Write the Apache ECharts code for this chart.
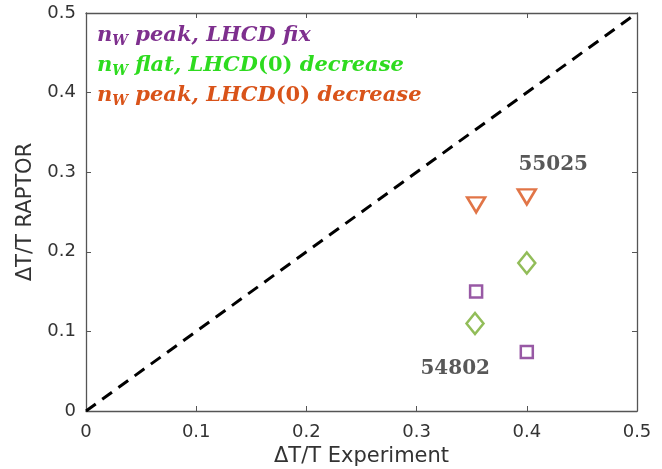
<!DOCTYPE html>
<html>
<head>
<meta charset="utf-8">
<script src="https://cdn.jsdelivr.net/npm/echarts@6/dist/echarts.min.js"></script>
<style>
  html, body { margin: 0; padding: 0; background: #fff; }
  #chart { width: 662px; height: 469px; }
</style>
</head>
<body>
<div id="chart"></div>
<script>
// Measured temperature change vs RAPTOR simulation
const axisTicks = [0, 0.1, 0.2, 0.3, 0.4, 0.5];
const peakFix = [[0.354, 0.150], [0.400, 0.074]];          // n_W peak, LHCD fix
const flatDecrease = [[0.353, 0.110], [0.400, 0.186]];     // n_W flat, LHCD(0) decrease
const peakDecrease = [[0.354, 0.259], [0.400, 0.269]];     // n_W peak, LHCD(0) decrease
const identityLine = [[0, 0], [0.5, 0.5]];
const shotLabels = [[0.424, 0.309, '55025'], [0.335, 0.053, '54802']];

const purple = '#7E2F8E', green = '#77AC30', orange = '#D95319';
const axisColor = '#333333';
const tickFont = 'DejaVu Sans';
const fmt = v => (v === 0 ? '0' : String(+v.toFixed(1)));

function axisBase(pos, showLabel) {
  return {
    type: 'value', min: axisTicks[0], max: axisTicks[axisTicks.length - 1], interval: 0.1, position: pos,
    axisLine: { show: true, onZero: false, lineStyle: { color: '#555', width: 1.3 } },
    axisTick: { show: true, inside: true, length: 5, lineStyle: { color: '#555' } },
    axisLabel: { show: showLabel, color: axisColor, fontFamily: tickFont, fontSize: 18, formatter: fmt },
    splitLine: { show: false }
  };
}

const chart = echarts.init(document.getElementById('chart'));
const legendStyle = (c) => ({
  t: { fontFamily: 'DejaVu Serif', fontStyle: 'italic', fontWeight: 'bold', fontSize: 21, fill: c },
  s: { fontFamily: 'DejaVu Serif', fontStyle: 'italic', fontWeight: 'bold', fontSize: 14, fill: c, padding: [11, 0, 0, 0] },
  u: { fontFamily: 'DejaVu Serif', fontWeight: 'bold', fontSize: 21, fill: c }
});

const option = {
  animation: false,
  backgroundColor: '#fff',
  grid: { left: 86, right: 25, top: 13, bottom: 58, containLabel: false, outerBoundsMode: 'none' },
  xAxis: [
    Object.assign(axisBase('bottom', true), {
      name: 'ΔT/T Experiment', nameLocation: 'middle', nameGap: 35,
      nameTextStyle: { color: axisColor, fontFamily: tickFont, fontSize: 21 },
      axisLabel: { show: true, color: axisColor, fontFamily: tickFont, fontSize: 18, margin: 12, formatter: fmt }
    }),
    axisBase('top', false)
  ],
  yAxis: [
    Object.assign(axisBase('left', true), {
      name: 'ΔT/T RAPTOR', nameLocation: 'middle', nameGap: 49,
      nameTextStyle: { color: axisColor, fontFamily: tickFont, fontSize: 21 },
      axisLabel: { show: true, color: axisColor, fontFamily: tickFont, fontSize: 18, margin: 10, formatter: fmt }
    }),
    axisBase('right', false)
  ],
  graphic: [
    { type: 'text', left: 97, top: 25, style: { rich: legendStyle(purple),
      text: '{t|n}{s|W}{t| peak, LHCD fix}' } },
    { type: 'text', left: 97, top: 55, style: { rich: legendStyle('#2EDB1F'),
      text: '{t|n}{s|W}{t| flat, LHCD}{u|(0)}{t| decrease}' } },
    { type: 'text', left: 97, top: 85, style: { rich: legendStyle(orange),
      text: '{t|n}{s|W}{t| peak, LHCD}{u|(0)}{t| decrease}' } }
  ],
  series: [
    { type: 'line', data: identityLine, symbol: 'none', silent: true,
      lineStyle: { color: '#000', width: 3, type: [12, 8] } },
    { type: 'scatter', data: peakFix, symbol: 'rect', symbolSize: 12,
      itemStyle: { color: '#fff', borderColor: purple, borderWidth: 2.5 } },
    { type: 'scatter', data: flatDecrease, symbol: 'diamond', symbolSize: [17, 21],
      itemStyle: { color: '#fff', borderColor: green, borderWidth: 2.5 } },
    { type: 'scatter', data: peakDecrease, symbol: 'triangle', symbolRotate: 180, symbolSize: [18, 15],
      itemStyle: { color: '#fff', borderColor: orange, borderWidth: 2.5 } },
    { type: 'scatter', data: shotLabels, symbolSize: 0, silent: true,
      label: { show: true, position: 'inside', formatter: p => p.data[2],
               fontFamily: 'DejaVu Serif', fontWeight: 'bold', fontSize: 20, color: '#2e2e2e' } }
  ]
};
chart.setOption(option);
</script>
</body>
</html>
